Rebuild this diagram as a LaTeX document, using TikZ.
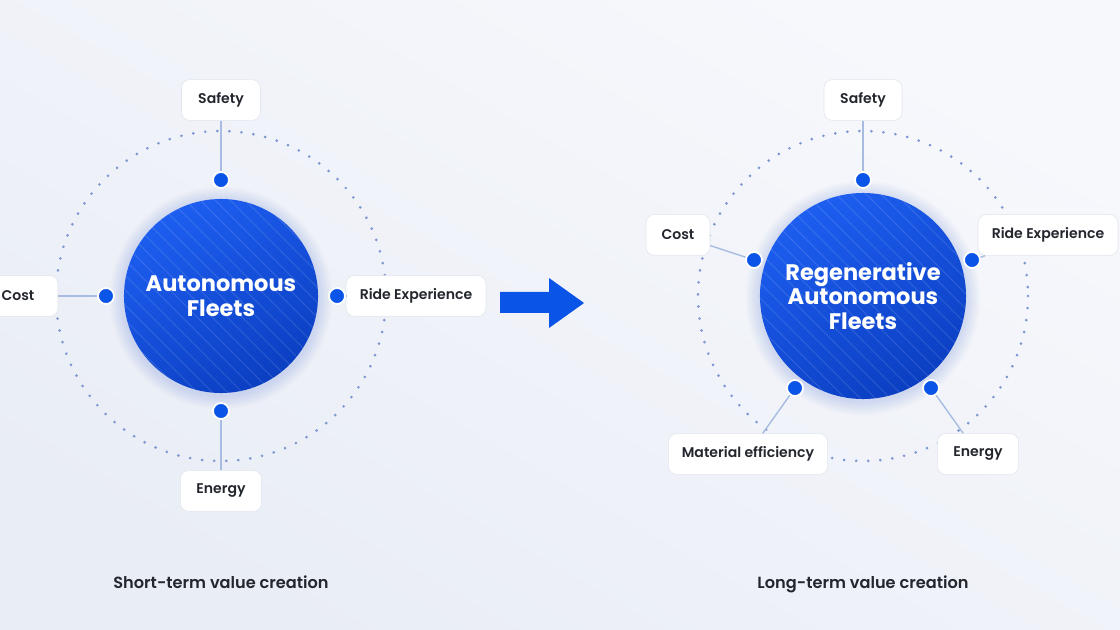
\documentclass[tikz,border=0pt]{standalone}
\usepackage{fontspec}
\setmainfont{Poppins}[FontFace={sb}{n}{Font=* SemiBold},FontFace={m}{n}{Font=* Medium}]

\definecolor{bgtop}{HTML}{F7F8FC}
\definecolor{bgbot}{HTML}{E9EDF5}
\definecolor{hublight}{HTML}{1D5EF0}
\definecolor{hubdark}{HTML}{0B3FC2}
\definecolor{dotblue}{HTML}{0A55E8}
\definecolor{ringdot}{HTML}{7D97D2}
\definecolor{linkblue}{HTML}{A8BCE2}
\definecolor{boxline}{HTML}{E1E5EE}
\definecolor{labelink}{HTML}{23262D}

\tikzset{
  ring/.style = {ringdot, line width=2.1pt, line cap=round, dash pattern=on 0pt off 8.6pt},
  glow/.style = {fill=hubdark, opacity=.018},
  hub/.style = {circle, inner sep=0, text=white, align=center,
    font=\fontseries{b}\selectfont\fontsize{16}{17.5}\selectfont,
    shading=axis, top color=hublight, bottom color=hubdark, shading angle=30,
    path picture={\foreach \k in {-14,...,14}
      \draw[white, opacity=.13, line width=.6pt]
        ([shift={(\k*15-140,-140)}]path picture bounding box.center) -- ++(280,280);}},
  tag/.style = {draw=boxline, fill=white, rounded corners=6pt, inner sep=0,
    minimum height=1.02cm, text=labelink,
    font=\fontseries{sb}\selectfont\fontsize{10}{12}\selectfont},
  pin/.style = {circle, fill=dotblue, draw=white, line width=1.3pt, minimum size=0.4cm, inner sep=0},
  link/.style = {linkblue, line width=1pt},
  caption/.style = {text=labelink, anchor=base, font=\fontseries{sb}\selectfont\fontsize{11.5}{13}\selectfont}
}

\begin{document}
\begin{tikzpicture}[x=0.025cm, y=-0.025cm]
\useasboundingbox (0,0) rectangle (1120,630);
\shade[shading=axis, top color=bgtop, bottom color=bgbot, shading angle=-30] (0,0) rectangle (1120,630);

% short-term side
\draw[ring] (221,296) circle [radius=165];
\foreach \r in {2,4,...,14}
  \fill[glow] (221,298) circle [radius=97+\r];
\node[hub, minimum size=4.85cm] (fleetA) at (221,296) {Autonomous\\Fleets};

\node[tag, minimum width=1.975cm] (safetyA) at (221,100) {Safety};
\node[tag, minimum width=2cm] (costA) at (18,296) {Cost};
\node[tag, minimum width=3.5cm] (rideA) at (416,296) {Ride Experience};
\node[tag, minimum width=2.03cm] (energyA) at (221,491) {Energy};

\node[pin] (pinAn) at (221,180) {};
\node[pin] (pinAw) at (106,296) {};
\node[pin] (pinAe) at (337,296) {};
\node[pin] (pinAs) at (221,411) {};

\draw[link] (safetyA) -- (pinAn);
\draw[link] (costA) -- (pinAw);
\draw[link] (pinAe) -- (rideA);
\draw[link] (pinAs) -- (energyA);

% arrow between the two
\fill[dotblue] (500,292) -- (549,292) -- (549,278) -- (584,303) -- (549,328) -- (549,313) -- (500,313) -- cycle;

% long-term side
\draw[ring] (863,296) circle [radius=165];
\foreach \r in {2,4,...,14}
  \fill[glow] (863,298) circle [radius=103+\r];
\node[hub, minimum size=5.15cm] (fleetB) at (863,296) {Regenerative\\Autonomous\\Fleets};

\node[tag, minimum width=1.95cm] (safetyB) at (863,100) {Safety};
\node[tag, minimum width=1.6cm] (costB) at (678,235) {Cost};
\node[tag, minimum width=3.5cm] (rideB) at (1048,235) {Ride Experience};
\node[tag, minimum width=3.98cm] (materialB) at (748,454) {Material efficiency};
\node[tag, minimum width=2.03cm] (energyB) at (978,454) {Energy};

\node[pin] (pinBn) at (863,180) {};
\node[pin] (pinBw) at (754,260) {};
\node[pin] (pinBe) at (972,260) {};
\node[pin] (pinBsw) at (795,388) {};
\node[pin] (pinBse) at (931,388) {};

\draw[link] (safetyB) -- (pinBn);
\draw[link] (costB) -- (pinBw);
\draw[link] (pinBe) -- (rideB);
\draw[link] (pinBsw) -- (materialB);
\draw[link] (pinBse) -- (energyB);

% captions
\node[caption] (shortT) at (221,588) {Short-term value creation};
\node[caption] (longT) at (863,588) {Long-term value creation};
\end{tikzpicture}
\end{document}
